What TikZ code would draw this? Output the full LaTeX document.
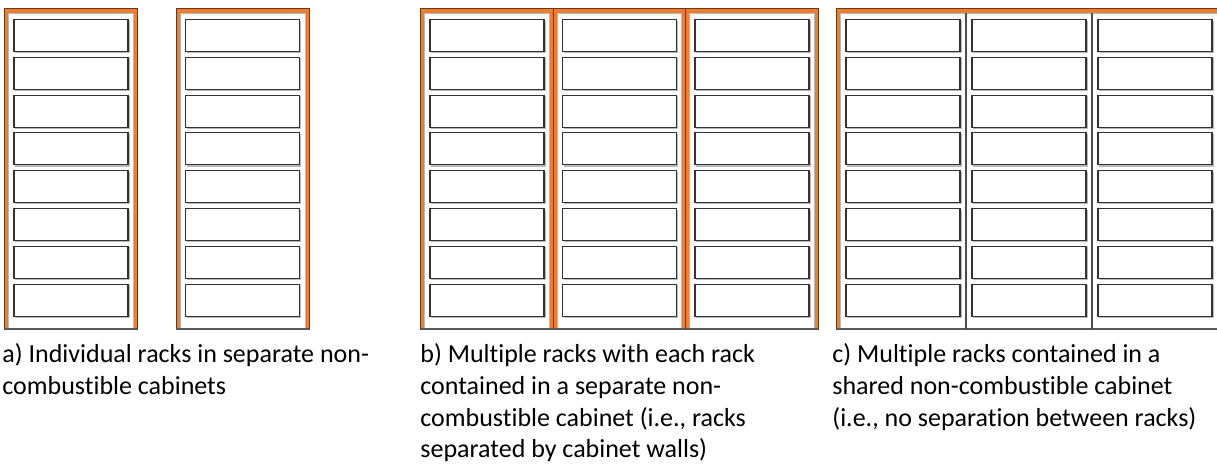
\documentclass[tikz,border=0pt]{standalone}
\usepackage{fontspec}
\setmainfont{Carlito}[Ligatures=NoCommon]
\usepackage{tikz}

\definecolor{cabinetorange}{HTML}{ED7D31}
\definecolor{cabinetedge}{HTML}{6B3A14}

% one cabinet frame: left and right edge (px)
\newcommand{\drawcabinet}[2]{
  \draw[frame] (#1,8) rectangle (#2,329);
  \draw[bay] (#1+3.9,13) rectangle (#2-3.9,329);
  \draw[floor] (#1,329) -- (#2,329);}
% eight slots of a rack, left edge (px)
\newcommand{\rackslots}[1]{
  \foreach \i in {0,...,7}{
    \draw[shade] (#1+1,19.5+37.8*\i+33) -- ++(114,0) -- ++(0,-32);
    \draw[slot] (#1,19.5+37.8*\i) rectangle ++(114,32);}}

\begin{document}
\begin{tikzpicture}[x=0.5pt, y=-0.5pt]
\tikzstyle{frame}=[fill=cabinetorange, draw=cabinetedge, line width=0.45pt]
\tikzstyle{bay}=[fill=white, draw=gray!55, line width=0.4pt]
\tikzstyle{slot}=[fill=white, draw=black!80, line width=0.55pt]
\tikzstyle{shade}=[draw=gray!55, line width=0.6pt]
\tikzstyle{floor}=[draw=black!65, line width=0.8pt]
\tikzstyle{wall}=[draw=black!70, line width=0.7pt]
\tikzstyle{caption}=[anchor=north west, inner sep=0pt, align=left, font=\fontsize{13}{15.9}\selectfont]
\useasboundingbox (0,0) rectangle (1217,463);
% a) two separate cabinets
\drawcabinet{4}{137}
\rackslots{14}
\drawcabinet{176}{309}
\rackslots{185.7}
% b) three cabinets side by side
\foreach \x in {420.5,553,685.5}{
  \drawcabinet{\x}{\x+132.5}
  \rackslots{\x+9.5}}
% c) one shared cabinet
\drawcabinet{836}{1222}
\foreach \x in {966,1092}{\draw[wall] (\x,13) -- (\x,329);}
\foreach \x in {846,972,1098}{\rackslots{\x}}
% captions
\node[caption] (capa) at (2,343) {a) Individual racks in separate non-\\combustible cabinets};
\node[caption] (capb) at (420,343) {b) Multiple racks with each rack\\contained in a separate non-\\combustible cabinet (i.e., racks\\separated by cabinet walls)};
\node[caption] (capc) at (832,343) {c) Multiple racks contained in a\\shared non-combustible cabinet\\(i.e., no separation between racks)};
\end{tikzpicture}
\end{document}
